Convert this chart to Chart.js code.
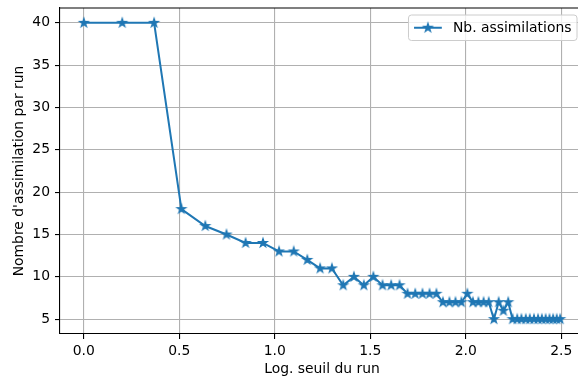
<!DOCTYPE html>
<html>
<head>
<meta charset="utf-8">
<script src="https://cdn.jsdelivr.net/npm/chart.js@4"></script>
<style>
  html, body { margin: 0; padding: 0; background: #fff; overflow: hidden; }
  #wrap { width: 578px; height: 376px; overflow: hidden; }
</style>
</head>
<body>
<div id="wrap"><canvas id="runChart" width="590" height="376"></canvas></div>
<script>
// x : log du seuil, y : nombre d'assimilations par run
const logSeuil = [
  0.000, 0.201, 0.368, 0.511, 0.636, 0.747, 0.847, 0.938, 1.022, 1.099,
  1.170, 1.237, 1.299, 1.358, 1.414, 1.466, 1.516, 1.564, 1.609, 1.653,
  1.695, 1.735, 1.773, 1.810, 1.846, 1.880, 1.914, 1.946, 1.977, 2.008,
  2.037, 2.066, 2.093, 2.120, 2.147, 2.172, 2.197, 2.222, 2.245, 2.269,
  2.291, 2.314, 2.335, 2.357, 2.378, 2.398, 2.418, 2.438, 2.457, 2.476,
  2.494
];
const nbAssim = [
  40, 40, 40, 18, 16, 15, 14, 14, 13, 13,
  12, 11, 11, 9, 10, 9, 10, 9, 9, 9,
  8, 8, 8, 8, 8, 7, 7, 7, 7, 8,
  7, 7, 7, 7, 5, 7, 6, 7, 5, 5,
  5, 5, 5, 5, 5, 5, 5, 5, 5, 5,
  5
];
const xTicks = [0, 0.5, 1, 1.5, 2, 2.5];
const yTicks = [5, 10, 15, 20, 25, 30, 35, 40];
const seriesLabel = 'Nb. assimilations';

const blue = '#1f77b4';
const fontFam = '"DejaVu Sans", sans-serif';
const fs = 13.9;

// marqueur étoile plein façon matplotlib
function makeStar(r, lw, color) {
  const s = 14;
  const c = document.createElement('canvas');
  c.width = s; c.height = s;
  const g = c.getContext('2d');
  g.beginPath();
  for (let k = 0; k < 10; k++) {
    const rad = k % 2 ? r * 0.381966 : r;
    const a = -Math.PI / 2 + k * Math.PI / 5;
    g.lineTo(s / 2 + rad * Math.cos(a), s / 2 + rad * Math.sin(a));
  }
  g.closePath();
  g.fillStyle = color;
  g.fill();
  g.lineWidth = lw;
  g.strokeStyle = color;
  g.lineJoin = 'miter';
  g.stroke();
  return c;
}
const star = makeStar(4.2, 1.4, blue);

const frameAndLegend = {
  id: 'frameAndLegend',
  afterDraw(chart) {
    const {ctx, chartArea: a} = chart;
    ctx.save();
    // top & right spines
    ctx.strokeStyle = '#000';
    ctx.lineWidth = 1.1;
    ctx.beginPath();
    ctx.moveTo(a.left, a.top);
    ctx.lineTo(a.right, a.top);
    ctx.lineTo(a.right, a.bottom);
    ctx.stroke();

    // legend
    ctx.font = fs + 'px ' + fontFam;
    const tw = ctx.measureText(seriesLabel).width;
    const pad = 0.4 * fs, handle = 2 * fs, gap = 0.8 * fs;
    const w = pad + handle + gap + tw + pad;
    const h = 25.5;
    const right = a.right - 7, top = a.top + 7;
    const left = right - w;
    ctx.beginPath();
    ctx.roundRect(left, top, w, h, 3);
    ctx.fillStyle = 'rgba(255,255,255,0.8)';
    ctx.fill();
    ctx.strokeStyle = '#cccccc';
    ctx.lineWidth = 1;
    ctx.stroke();
    const cy = top + h / 2;
    ctx.strokeStyle = blue;
    ctx.lineWidth = 2;
    ctx.beginPath();
    ctx.moveTo(left + pad, cy);
    ctx.lineTo(left + pad + handle, cy);
    ctx.stroke();
    ctx.drawImage(star, left + pad + handle / 2 - 7, cy - 7);
    ctx.fillStyle = '#000';
    ctx.textBaseline = 'middle';
    ctx.textAlign = 'left';
    ctx.fillText(seriesLabel, left + pad + handle + gap, cy + 0.5);
    ctx.restore();
  }
};

const ctx = document.getElementById('runChart').getContext('2d');
new Chart(ctx, {
  type: 'line',
  data: {
    datasets: [{
      label: seriesLabel,
      data: logSeuil.map((x, i) => ({x: x, y: nbAssim[i]})),
      borderColor: blue,
      backgroundColor: blue,
      borderWidth: 2,
      pointStyle: star,
      pointRadius: 4,
      tension: 0,
      fill: false
    }]
  },
  options: {
    responsive: false,
    animation: false,
    devicePixelRatio: 1,
    layout: { padding: { top: 8, right: 6, left: 0, bottom: 0 } },
    plugins: {
      legend: { display: false },
      tooltip: { enabled: false }
    },
    scales: {
      x: {
        type: 'linear',
        min: -0.1247,
        max: 2.6188,
        afterFit: s => { s.height = 42; s.paddingLeft = 0; s.paddingRight = 0; },
        afterBuildTicks: s => { s.ticks = xTicks.map(v => ({value: v})); },
        ticks: {
          color: '#000',
          font: { family: fontFam, size: fs },
          padding: 4,
          maxRotation: 0,
          autoSkip: false,
          callback: v => Number(v).toFixed(1)
        },
        grid: { color: '#b0b0b0', lineWidth: 1.1, tickColor: '#000', tickLength: 5 },
        border: { color: '#000', width: 1.1 },
        title: {
          display: true,
          text: 'Log. seuil du run',
          color: '#000',
          font: { family: fontFam, size: fs },
          padding: { top: 0, bottom: -1.5 }
        }
      },
      y: {
        min: 3.25,
        max: 41.75,
        afterFit: s => { s.width = 60; s.paddingTop = 0; s.paddingBottom = 0; },
        afterBuildTicks: s => { s.ticks = yTicks.map(v => ({value: v})); },
        ticks: {
          color: '#000',
          font: { family: fontFam, size: fs },
          padding: 5
        },
        grid: { color: '#b0b0b0', lineWidth: 1.1, tickColor: '#000', tickLength: 5 },
        border: { color: '#000', width: 1.1 },
        title: {
          display: true,
          text: "Nombre d'assimilation par run",
          color: '#000',
          font: { family: fontFam, size: fs },
          padding: { top: 11, bottom: 0 }
        }
      }
    }
  },
  plugins: [frameAndLegend]
});
</script>
</body>
</html>
